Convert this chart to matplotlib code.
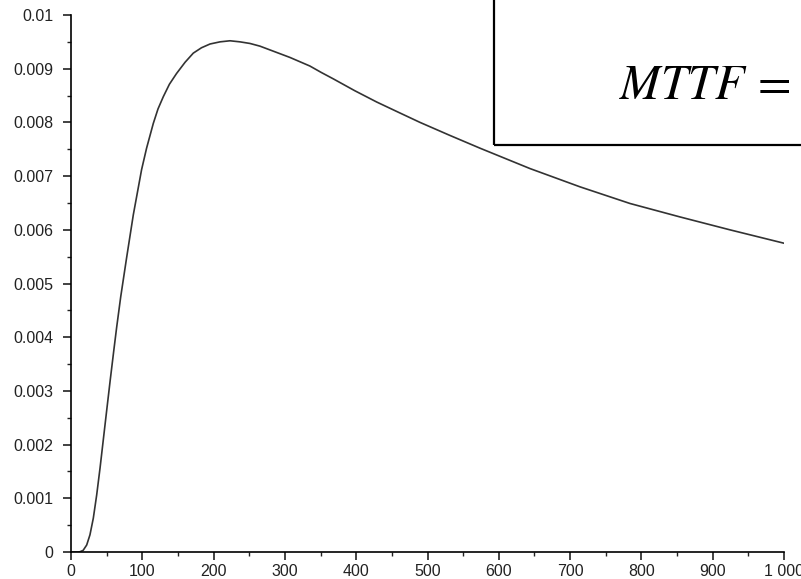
import matplotlib
matplotlib.use("Agg")
import matplotlib.pyplot as plt
from matplotlib.patches import Rectangle
from matplotlib.ticker import FuncFormatter, MultipleLocator

# values
t = [0, 10, 12.6, 17, 22, 26.6, 31.3, 36, 40.7, 45.3, 50, 55, 60, 64, 69.7,
     78, 87.4, 99, 106, 115.4, 122, 129.5, 138, 148, 160, 171.5, 183, 195,
     209, 223, 237, 251, 265, 279, 293, 307, 321, 335, 351, 368, 398, 428.7,
     459, 489.5, 531, 573.6, 643.8, 713.9, 784, 854, 924, 1000]
f = [0, 0, 0.000005, 0.00003, 0.00013, 0.00032, 0.00063, 0.00106, 0.00156,
     0.00209, 0.00263, 0.00320, 0.00375, 0.00418, 0.00475, 0.00548, 0.00628,
     0.00712, 0.00752, 0.00798, 0.00825, 0.00848, 0.00871, 0.00891, 0.00912,
     0.00929, 0.00939, 0.00946, 0.00950, 0.00952, 0.00950, 0.00947, 0.00942,
     0.00935, 0.00928, 0.00921, 0.00913, 0.00905, 0.00893, 0.00881, 0.00859,
     0.00838, 0.00819, 0.00800, 0.00776, 0.00752, 0.00714, 0.0068, 0.00649,
     0.00624, 0.006, 0.00575]

xticks = list(range(0, 1001, 100))
yticks = [i / 1000 for i in range(0, 11)]

W, H = 801, 579
fig = plt.figure(figsize=(W / 100, H / 100), dpi=100)
plt.rcParams['font.family'] = ['Liberation Sans', 'DejaVu Sans']
ax = fig.add_axes([71 / W, (H - 552) / H, 713 / W, (552 - 15) / H])

ax.plot(t, f, color='#333333', lw=1.2)

ax.set_xlim(0, 1000)
ax.set_ylim(0, 0.01)
ax.set_xticks(xticks)
ax.set_yticks(yticks)
ax.xaxis.set_minor_locator(MultipleLocator(50))
ax.yaxis.set_minor_locator(MultipleLocator(0.0005))
ax.xaxis.set_major_formatter(FuncFormatter(lambda v, p: f"{int(v):,}".replace(",", " ")))
ax.yaxis.set_major_formatter(FuncFormatter(lambda v, p: "0" if v == 0 else f"{v:g}"))
for s in ('top', 'right'):
    ax.spines[s].set_visible(False)
for s in ('left', 'bottom'):
    ax.spines[s].set_linewidth(1.2)
ax.tick_params(which='major', length=6, width=1.2, labelsize=11.5, colors='#222222')
ax.tick_params(which='minor', length=3, width=1.0, colors='#222222')
ax.tick_params(axis='y', which='major', pad=6.5)
ax.tick_params(axis='x', which='major', pad=2.5)

# boxed formula, cut off at top right
fig.patches.append(Rectangle((494 / W, (H - 145) / H), 0.5, 0.5, transform=fig.transFigure,
                             fill=False, edgecolor='black', lw=1.6, clip_on=False))
plt.rcParams['mathtext.fontset'] = 'stix'
fig.text(790 / W, (H - 99) / H, r"$MTTF\,=$", ha='right', va='baseline', fontsize=35)

fig.savefig("out.png", dpi=100)
